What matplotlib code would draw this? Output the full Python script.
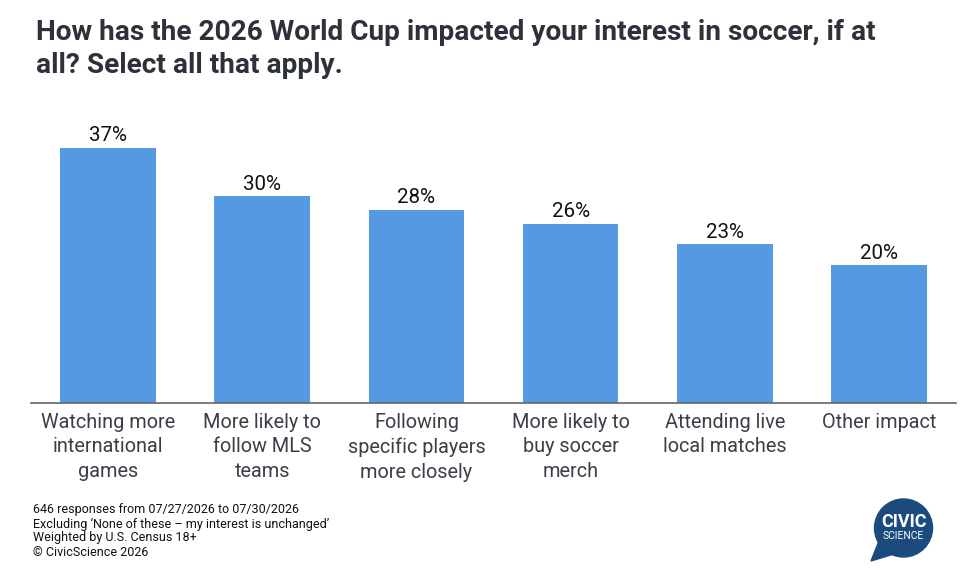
import matplotlib.pyplot as plt
from matplotlib.patches import Circle, Polygon

categories = ["Watching more\ninternational\ngames", "More likely to\nfollow MLS\nteams",
              "Following\nspecific players\nmore closely", "More likely to\nbuy soccer\nmerch",
              "Attending live\nlocal matches", "Other impact"]
values = [37, 30, 28, 26, 23, 20]
value_labels = ["37%", "30%", "28%", "26%", "23%", "20%"]

title = "How has the 2026 World Cup impacted your interest in soccer, if at\nall? Select all that apply."
notes = ["646 responses from 07/27/2026 to 07/30/2026",
         "Excluding \u2018None of these \u2013 my interest is unchanged\u2019",
         "Weighted by U.S. Census 18+",
         "\u00a9 CivicScience 2026"]

plt.rcParams['font.family'] = ['Roboto', 'DejaVu Sans']

W, H = 966, 575
fig = plt.figure(figsize=(W / 100, H / 100), dpi=100)

# Axes placed in pixel terms
left, right, bottom, top = 31, 956, 403, 127
ax = fig.add_axes([left / W, 1 - bottom / H, (right - left) / W, (bottom - top) / H])

x = range(len(values))
bars = ax.bar(x, values, width=0.62, color="#5599e3")
ax.set_xlim(-0.5, len(values) - 0.5)
ax.set_ylim(0, 40)

for b, lab in zip(bars, value_labels):
    ax.text(b.get_x() + b.get_width() / 2, b.get_height() + 0.35, lab,
            ha="center", va="bottom", fontsize=14.8, color="#111111")

ax.set_xticks(list(x))
ax.set_xticklabels(categories, fontsize=14.3, color="#3a3f47", linespacing=1.37)
ax.tick_params(axis="x", length=0, pad=7)
ax.set_yticks([])
for s in ["top", "right", "left"]:
    ax.spines[s].set_visible(False)
ax.spines["bottom"].set_color("#666666")
ax.spines["bottom"].set_linewidth(1.2)

# Title
fig.text(36 / W, 1 - 19 / H, title, fontsize=20.2, fontweight="bold",
         color="#2d3139", va="top", ha="left", linespacing=1.28)

# Footnotes
for i, n in enumerate(notes):
    fig.text(33 / W, 1 - (510 + i * 14) / H, n, fontsize=9, color="#111111",
             va="center", ha="left")

# Logo
lax = fig.add_axes([0, 0, 1, 1], zorder=5)
lax.set_xlim(0, W)
lax.set_ylim(H, 0)
lax.axis("off")
logo_col = "#1b4b7c"
lax.add_patch(Circle((903.5, 528), 29, color=logo_col))
lax.add_patch(Polygon([(879, 541), (871, 561), (894, 554)], closed=True, color=logo_col))
lax.text(903.5, 522, "CIVIC", fontsize=13, fontweight="bold", color="white",
         ha="center", va="center")
lax.text(903.5, 536, "SCIENCE", fontsize=7.4, color="white", ha="center", va="center")

fig.savefig("out.png", dpi=100)
